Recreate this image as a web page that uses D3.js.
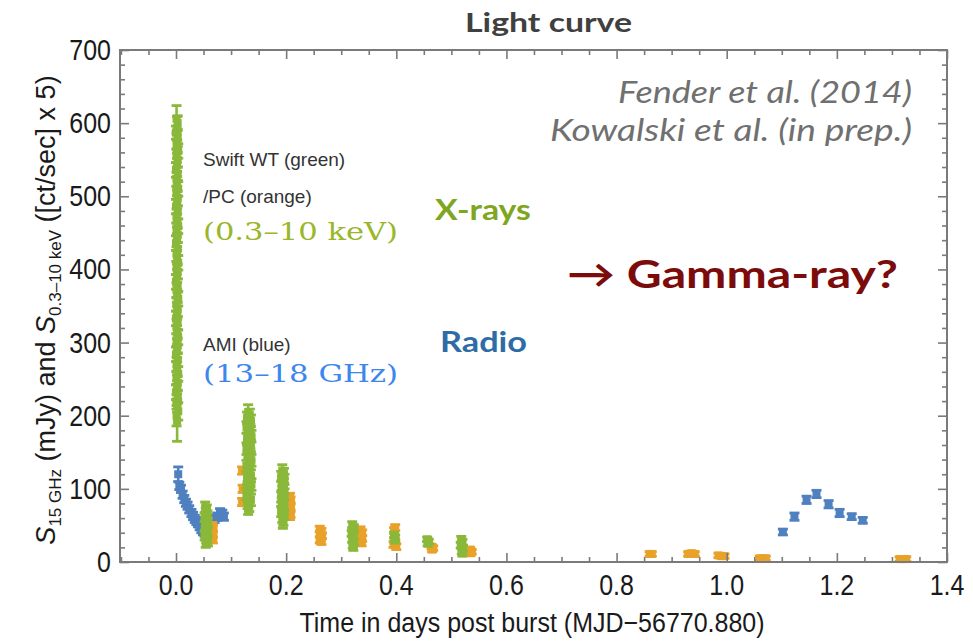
<!DOCTYPE html>
<html>
<head>
<meta charset="utf-8">
<script src="https://cdn.jsdelivr.net/npm/d3@7"></script>
<style>
  html, body { margin: 0; padding: 0; background: #ffffff; }
  svg { display: block; }
</style>
</head>
<body>
<svg id="chart" width="973" height="644"></svg>
<script>
// Light curve of the burst: Swift XRT (WT = green, PC = orange) and AMI radio (blue).
// Each point: [time in days post burst, flux, error]

const swiftWT = [
  // initial flare
  [0.001, 606, 18], [0.003, 600, 10], [0.002, 593, 16], [0.000, 587, 9], [0.003, 580, 12],
  [0.001, 575, 10], [0.002, 568, 9], [0.004, 562, 10], [0.001, 555, 9], [0.003, 550, 10],
  [0.002, 543, 9], [0.000, 536, 10], [0.003, 531, 9], [0.001, 523, 10], [0.002, 518, 9],
  [0.004, 510, 10], [0.001, 505, 9], [0.003, 497, 10], [0.002, 492, 9], [0.000, 486, 10],
  [0.003, 478, 9], [0.001, 473, 10], [0.002, 467, 9], [0.004, 459, 10], [0.001, 455, 9],
  [0.003, 447, 10], [0.002, 440, 9], [0.000, 436, 10], [0.003, 428, 9], [0.001, 421, 10],
  [0.002, 417, 9], [0.004, 409, 10], [0.001, 402, 9], [0.003, 397, 10], [0.002, 391, 9],
  [0.000, 383, 10], [0.003, 378, 9], [0.001, 372, 10], [0.002, 364, 9], [0.004, 360, 10],
  [0.001, 352, 9], [0.003, 345, 10], [0.002, 341, 9], [0.000, 333, 10], [0.003, 327, 9],
  [0.001, 322, 10], [0.002, 314, 9], [0.004, 307, 10], [0.001, 303, 9], [0.003, 296, 10],
  [0.002, 288, 9], [0.000, 284, 10], [0.003, 276, 9], [0.001, 270, 10], [0.002, 265, 9],
  [0.004, 257, 10], [0.001, 252, 9], [0.003, 244, 10], [0.002, 239, 9], [0.000, 232, 10],
  [0.003, 226, 9], [0.001, 219, 10], [0.002, 214, 9], [0.004, 206, 12], [0.001, 200, 14],
  [0.002, 193, 28],
  // second orbit
  [0.053, 75, 7], [0.056, 72, 6], [0.054, 68, 6], [0.057, 64, 6], [0.052, 61, 6], [0.055, 57, 6],
  [0.058, 54, 6], [0.053, 50, 6], [0.056, 46, 6], [0.054, 43, 6], [0.057, 39, 6], [0.052, 36, 6],
  [0.055, 32, 6], [0.058, 29, 7], [0.054, 27, 7],
  // third orbit
  [0.131, 205, 10], [0.134, 201, 8], [0.129, 197, 8], [0.136, 193, 8], [0.132, 188, 8],
  [0.128, 184, 8], [0.135, 180, 8], [0.131, 176, 8], [0.137, 172, 8], [0.129, 168, 8],
  [0.133, 164, 8], [0.136, 159, 8], [0.128, 155, 8], [0.132, 151, 8], [0.135, 147, 8],
  [0.130, 143, 8], [0.137, 139, 8], [0.133, 135, 8], [0.128, 131, 8], [0.134, 126, 8],
  [0.131, 122, 8], [0.136, 118, 8], [0.129, 114, 8], [0.133, 110, 8], [0.137, 106, 8],
  [0.130, 102, 8], [0.134, 97, 8], [0.128, 93, 8], [0.132, 89, 8], [0.136, 85, 8],
  [0.130, 81, 8], [0.133, 77, 8], [0.131, 73, 8],
  // fourth orbit
  [0.193, 125, 8], [0.196, 121, 7], [0.191, 117, 7], [0.197, 113, 7], [0.194, 109, 7],
  [0.192, 105, 7], [0.196, 101, 7], [0.193, 97, 7], [0.197, 93, 7], [0.191, 89, 7],
  [0.195, 85, 7], [0.192, 81, 7], [0.196, 77, 7], [0.194, 73, 7], [0.191, 69, 7],
  [0.197, 65, 7], [0.193, 61, 7], [0.195, 57, 7], [0.194, 54, 8],
  // later snapshots
  [0.320, 51, 4], [0.323, 47, 4], [0.321, 43, 4], [0.319, 39, 4], [0.322, 35, 4],
  [0.320, 31, 4], [0.323, 27, 4], [0.321, 23, 4], [0.322, 20, 4],
  [0.396, 37, 4], [0.398, 33, 4], [0.397, 30, 4],
  [0.456, 31, 3], [0.459, 28, 3], [0.457, 25, 3],
  [0.518, 31, 4], [0.520, 27, 4], [0.517, 23, 4], [0.521, 19, 4], [0.519, 15, 4], [0.520, 12, 4]
];

const swiftPC = [
  [0.066, 50, 4], [0.067, 46, 4], [0.066, 42, 4], [0.067, 38, 4], [0.066, 34, 4], [0.067, 30, 4],
  [0.120, 125, 5], [0.121, 100, 5], [0.120, 82, 5],
  [0.207, 90, 4], [0.208, 85, 4], [0.207, 80, 4], [0.208, 75, 4], [0.207, 70, 4], [0.208, 65, 4], [0.207, 62, 4],
  [0.261, 45, 4], [0.264, 42, 4], [0.262, 39, 4], [0.265, 36, 4], [0.263, 33, 4], [0.261, 30, 4], [0.264, 28, 4],
  [0.335, 44, 4], [0.338, 40, 4], [0.336, 36, 4], [0.338, 32, 4], [0.335, 28, 4], [0.337, 26, 4],
  [0.398, 47, 4], [0.396, 43, 4], [0.398, 27, 4], [0.395, 24, 4], [0.400, 21, 4],
  [0.464, 21, 3], [0.467, 19, 3], [0.465, 17, 3],
  [0.534, 17, 3], [0.537, 14, 3], [0.535, 12, 3],
  [0.860, 11, 3], [0.864, 11, 3], [0.930, 11, 3], [0.936, 12, 3], [0.942, 11, 3],
  [0.985, 9, 3], [0.991, 8, 3], [0.996, 8, 3],
  [1.060, 5, 3], [1.066, 5, 3], [1.071, 5, 3], [1.314, 4, 3], [1.320, 4, 3], [1.326, 4, 3]
];

const amiRadio = [
  [0.004, 120, 10], [0.006, 104, 5], [0.009, 100, 5], [0.012, 92, 5], [0.015, 86, 5], [0.018, 81, 5],
  [0.021, 77, 5], [0.024, 72, 5], [0.028, 67, 5], [0.031, 63, 5], [0.034, 59, 5], [0.037, 56, 5],
  [0.040, 53, 5], [0.043, 49, 5], [0.046, 45, 5], [0.049, 42, 5], [0.052, 40, 5], [0.060, 47, 5],
  [0.066, 56, 5], [0.070, 59, 5], [0.075, 62, 5], [0.080, 68, 5], [0.084, 66, 5], [0.087, 62, 5],
  [1.102, 41, 4], [1.123, 62, 5], [1.145, 85, 5], [1.163, 93, 5], [1.185, 79, 5],
  [1.205, 67, 5], [1.227, 62, 4], [1.247, 57, 4]
];

const xMajorTicks = [0.0, 0.2, 0.4, 0.6, 0.8, 1.0, 1.2, 1.4];
const yMajorTicks = [0, 100, 200, 300, 400, 500, 600, 700];

const svg = d3.select('#chart');
const plot = { left: 120, right: 947, top: 50, bottom: 562 };

const x = d3.scaleLinear().domain([-0.1017, 1.4]).range([plot.left, plot.right]);
const y = d3.scaleLinear().domain([0, 700]).range([plot.bottom, plot.top]);

const xMinor = d3.range(-0.1, 1.4001, 0.05).map(v => +v.toFixed(2)).filter(v => !xMajorTicks.some(m => Math.abs(m - v) < 1e-6));
const yMinor = d3.range(0, 701, 20).filter(v => v % 100 !== 0);

const frameColor = '#7a7a7a';
const tickFont = '"Liberation Sans", Arial, sans-serif';

// ---- data marks: square marker with capped error bar ----
function drawSeries(data, color, capW, box) {
  const g = svg.append('g').attr('fill', color).attr('stroke', color);
  const pts = g.selectAll('g').data(data).join('g')
    .attr('transform', d => `translate(${x(d[0])},0)`);
  pts.append('line')
    .attr('x1', 0).attr('x2', 0)
    .attr('y1', d => y(d[1] - d[2])).attr('y2', d => y(d[1] + d[2]))
    .attr('stroke-width', 2.6);
  pts.append('line')
    .attr('x1', -capW / 2).attr('x2', capW / 2)
    .attr('y1', d => y(d[1] + d[2])).attr('y2', d => y(d[1] + d[2]))
    .attr('stroke-width', 2.8);
  pts.append('line')
    .attr('x1', -capW / 2).attr('x2', capW / 2)
    .attr('y1', d => y(d[1] - d[2])).attr('y2', d => y(d[1] - d[2]))
    .attr('stroke-width', 2.8);
  pts.append('rect')
    .attr('x', -box / 2).attr('y', d => y(d[1]) - box / 2)
    .attr('width', box).attr('height', box)
    .attr('stroke', 'none');
}

drawSeries(amiRadio, '#4f80c0', 10, 8);
drawSeries(swiftPC, '#e9a229', 10, 8);
drawSeries(swiftWT, '#8ab83a', 10, 8);

// ---- frame and ticks ----
const axes = svg.append('g');

function tickAxis(axisFn, scale, values, size, transform) {
  const gAx = axes.append('g').attr('transform', transform)
    .call(axisFn(scale).tickValues(values).tickSizeInner(size).tickSizeOuter(0).tickFormat(''));
  gAx.select('.domain').remove();
  gAx.selectAll('line').attr('stroke', frameColor).attr('stroke-width', 1.6);
  return gAx;
}

tickAxis(d3.axisBottom, x, xMajorTicks, -9, `translate(0,${plot.bottom})`);
tickAxis(d3.axisBottom, x, xMinor, -5, `translate(0,${plot.bottom})`);
tickAxis(d3.axisTop, x, xMajorTicks, -9, `translate(0,${plot.top})`);
tickAxis(d3.axisTop, x, xMinor, -5, `translate(0,${plot.top})`);
tickAxis(d3.axisLeft, y, yMajorTicks, -9, `translate(${plot.left},0)`);
tickAxis(d3.axisLeft, y, yMinor, -5, `translate(${plot.left},0)`);
tickAxis(d3.axisRight, y, yMajorTicks, -9, `translate(${plot.right},0)`);
tickAxis(d3.axisRight, y, yMinor, -5, `translate(${plot.right},0)`);

axes.append('rect')
  .attr('x', plot.left).attr('y', plot.top)
  .attr('width', plot.right - plot.left).attr('height', plot.bottom - plot.top)
  .attr('fill', 'none').attr('stroke', frameColor).attr('stroke-width', 2);

// ---- tick labels ----
const labels = svg.append('g').attr('fill', '#1a1a1a').attr('font-family', tickFont).attr('font-size', 25);

labels.selectAll('g.xl').data(xMajorTicks).join('g').attr('class', 'xl')
  .attr('transform', d => `translate(${x(d)},${plot.bottom + 33}) scale(1,1.15)`)
  .append('text').attr('text-anchor', 'middle').text(d3.format('.1f'));

labels.selectAll('g.yl').data(yMajorTicks).join('g').attr('class', 'yl')
  .attr('transform', d => `translate(${plot.left - 9},${y(d) + 10}) scale(1,1.15)`)
  .append('text').attr('text-anchor', 'end').text(d => d);

// ---- axis titles ----
svg.append('g')
  .attr('transform', `translate(532,632) scale(1,1.12)`)
  .append('text').attr('text-anchor', 'middle')
  .attr('font-family', tickFont).attr('font-size', 25).attr('fill', '#1a1a1a')
  .text('Time in days post burst (MJD\u221256770.880)');

const yTitle = svg.append('text')
  .attr('transform', `translate(55,310) rotate(-90)`)
  .attr('text-anchor', 'middle')
  .attr('font-family', tickFont).attr('font-size', 27).attr('fill', '#1a1a1a');
yTitle.append('tspan').attr('font-style', 'italic').text('S');
yTitle.append('tspan').attr('font-size', 17).attr('dy', 6).text('15 GHz');
yTitle.append('tspan').attr('dy', -6).text(' (mJy) and ');
yTitle.append('tspan').attr('font-style', 'italic').text('S');
yTitle.append('tspan').attr('font-size', 17).attr('dy', 6).text('0.3\u201310 keV');
yTitle.append('tspan').attr('dy', -6).text(' ([ct/sec] x 5)');

// ---- chart title ----
svg.append('text')
  .attr('x', 465).attr('y', 32)
  .attr('font-family', 'Lato, "Open Sans", sans-serif').attr('font-weight', 'bold')
  .attr('font-size', 27).attr('fill', '#404040')
  .attr('textLength', 167).attr('lengthAdjust', 'spacingAndGlyphs')
  .text('Light curve');

// ---- references ----
const refs = svg.append('g')
  .attr('font-family', 'Lato, "DejaVu Sans", sans-serif').attr('font-style', 'italic')
  .attr('font-size', 30).attr('fill', '#707070');
refs.append('text').attr('x', 618).attr('y', 103)
  .attr('textLength', 294).attr('lengthAdjust', 'spacingAndGlyphs').text('Fender et al. (2014)');
refs.append('text').attr('x', 550).attr('y', 141)
  .attr('textLength', 362).attr('lengthAdjust', 'spacingAndGlyphs').text('Kowalski et al. (in prep.)');

// ---- in-plot legend ----
const legend = svg.append('g').attr('font-family', tickFont).attr('fill', '#333').attr('font-size', 19);
legend.append('text').attr('x', 203).attr('y', 166).text('Swift WT (green)');
legend.append('text').attr('x', 203).attr('y', 203).text('/PC (orange)');
legend.append('text').attr('x', 203).attr('y', 351).text('AMI (blue)');

const serif = '"DejaVu Serif", "Liberation Serif", serif';
svg.append('text').attr('x', 203).attr('y', 240)
  .attr('font-family', serif).attr('font-size', 25).attr('fill', '#9ab62a')
  .attr('textLength', 195).attr('lengthAdjust', 'spacingAndGlyphs')
  .text('(0.3\u201310 keV)');
svg.append('text').attr('x', 203).attr('y', 382)
  .attr('font-family', serif).attr('font-size', 25).attr('fill', '#3c86ee')
  .attr('textLength', 195).attr('lengthAdjust', 'spacingAndGlyphs')
  .text('(13\u201318 GHz)');

// ---- band labels ----
const bold = 'Lato, "Open Sans", sans-serif';
svg.append('text').attr('x', 435).attr('y', 220)
  .attr('font-family', bold).attr('font-weight', 'bold').attr('font-size', 28).attr('fill', '#7ea61e')
  .attr('textLength', 96).attr('lengthAdjust', 'spacingAndGlyphs')
  .text('X-rays');
svg.append('text').attr('x', 440).attr('y', 352)
  .attr('font-family', bold).attr('font-weight', 'bold').attr('font-size', 28).attr('fill', '#2f6ca6')
  .attr('textLength', 87).attr('lengthAdjust', 'spacingAndGlyphs')
  .text('Radio');
svg.append('text').attr('x', 567).attr('y', 288)
  .attr('font-family', bold).attr('font-weight', 'bold').attr('font-size', 39).attr('fill', '#7c0b0b')
  .attr('textLength', 331).attr('lengthAdjust', 'spacingAndGlyphs')
  .text('\u2192 Gamma-ray?');
</script>
</body>
</html>
